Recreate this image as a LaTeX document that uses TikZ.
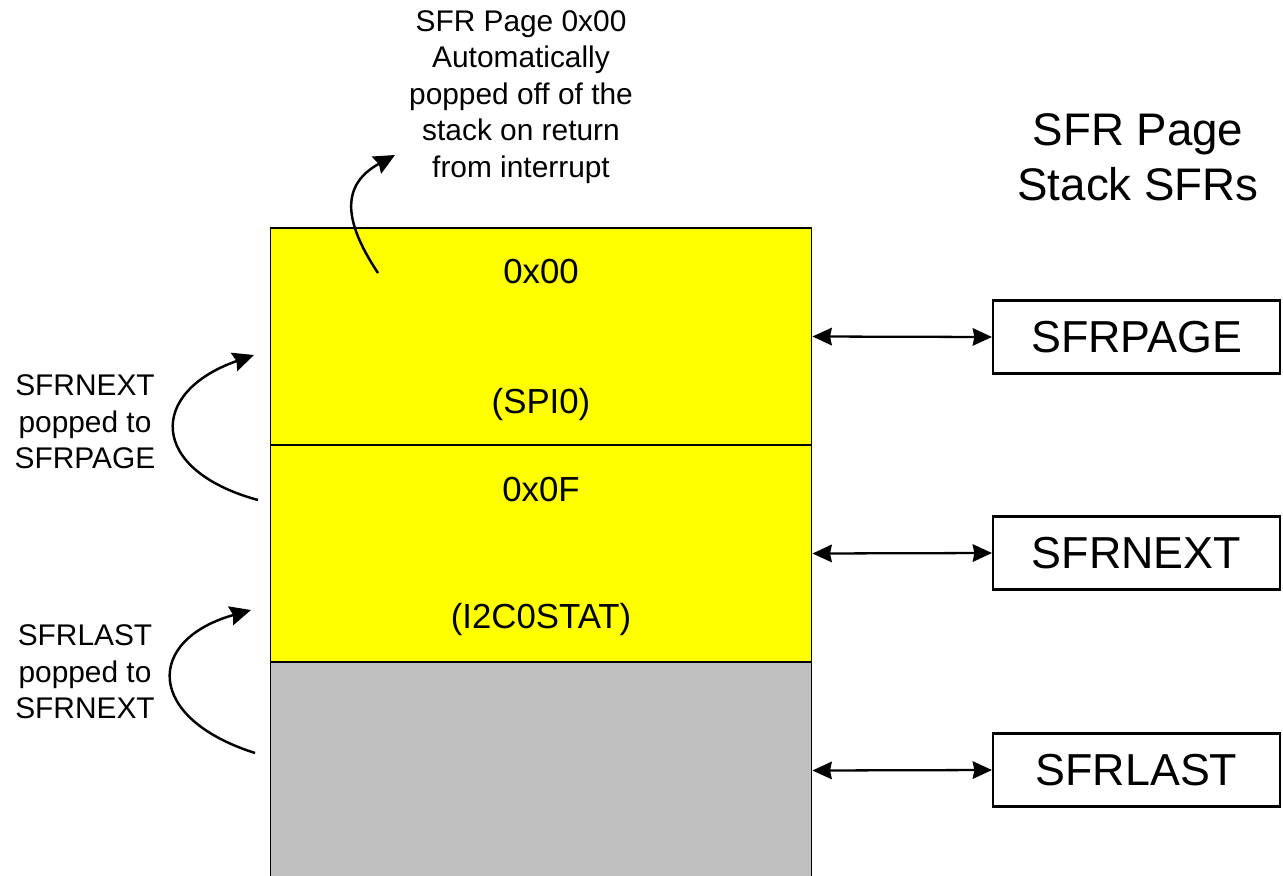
\documentclass[tikz,border=0pt]{standalone}
\usepackage{fontspec}
\setmainfont{Liberation Sans}
\usepackage{tikz}
\usetikzlibrary{arrows.meta}

\definecolor{slotyellow}{RGB}{255,255,0}
\definecolor{slotgray}{RGB}{192,192,192}

\begin{document}
\begin{tikzpicture}[
    x=0.02cm, y=-0.02cm,
    slot/.style={draw, line width=0.6pt, rectangle, minimum width=10.84cm, minimum height=4.34cm, inner sep=0pt},
    sfrbox/.style={draw, line width=1.2pt, rectangle, minimum width=5.74cm, minimum height=1.46cm, align=center, font=\fontsize{25.5}{30}\selectfont},
    slottext/.style={font=\fontsize{19.8}{24}\selectfont},
    note/.style={align=center, font=\fontsize{17}{20.7}\selectfont},
    line/.style={draw, line width=1.3pt, {Stealth[length=11pt, width=10pt, inset=1pt]}-{Stealth[length=11pt, width=10pt, inset=1pt]}},
    curve/.style={draw, line width=1.4pt, -{Stealth[length=12pt, width=11pt, inset=1.5pt]}}
]

    \useasboundingbox (0,0) rectangle (1283,875);

    % Stack: three slots
    \node[slot, fill=slotyellow] (slot_top) at (541, 336.5) {};
    \node[slot, fill=slotyellow] (slot_mid) at (541, 553.5) {};
    \node[slot, fill=slotgray] (slot_bot) at (541, 770.5) {};

    \node[slottext] (top_val) at (541, 272) {0x00};
    \node[slottext] (top_name) at (541, 404) {(SPI0)};
    \node[slottext] (mid_val) at (541, 490) {0x0F};
    \node[slottext] (mid_name) at (541, 619) {(I2C0STAT)};

    % Right: SFR page stack registers
    \node[align=center, font=\fontsize{26}{31.2}\selectfont] (title) at (1138, 157) {SFR Page\\Stack SFRs};

    \node[sfrbox] (sfrpage) at (1136.5, 337) {SFRPAGE};
    \node[sfrbox] (sfrnext) at (1136.5, 553) {SFRNEXT};
    \node[sfrbox] (sfrlast) at (1136.5, 770) {SFRLAST};

    \draw[line] (slot_top.east) -- (sfrpage.west);
    \draw[line] (slot_mid.east) -- (sfrnext.west);
    \draw[line] (slot_bot.east) -- (sfrlast.west);

    % Top: popped off on return
    \node[note] (pop_note) at (521, 97) {SFR Page 0x00\\Automatically\\popped off of the\\stack on return\\from interrupt};
    \coordinate (pop_from) at (378, 273);
    \coordinate (pop_to) at (395, 155);
    \draw[curve] (pop_from) .. controls (342, 219) and (342, 184) .. (pop_to);

    % Left: popped to the slot above
    \node[note] (next_note) at (85, 422) {SFRNEXT\\popped to\\SFRPAGE};
    \coordinate (next_from) at (258, 500);
    \coordinate (next_to) at (254, 355);
    \draw[curve] (next_from) .. controls (148, 470) and (148, 392) .. (next_to);

    \node[note] (last_note) at (85, 672) {SFRLAST\\popped to\\SFRNEXT};
    \coordinate (last_from) at (255, 753);
    \coordinate (last_to) at (251, 610);
    \draw[curve] (last_from) .. controls (145, 718) and (145, 640) .. (last_to);

\end{tikzpicture}
\end{document}
